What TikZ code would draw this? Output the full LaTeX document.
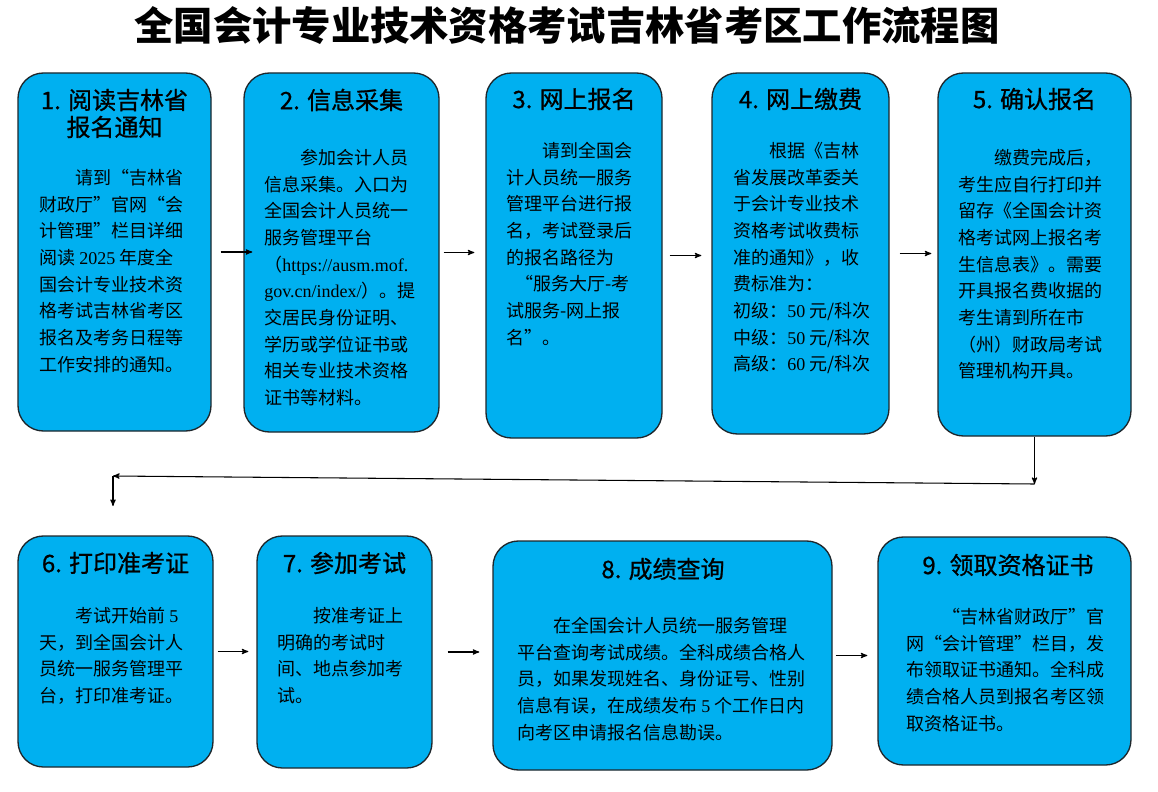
\documentclass[tikz,border=0pt]{standalone}
\usepackage{fontspec}
\setmainfont{Noto Sans CJK SC}
\newfontfamily\numfont{Liberation Serif}
\newfontfamily\headfont[FakeBold=0.8]{Noto Sans CJK SC}
\usetikzlibrary{arrows,fit,calc}
\definecolor{boxcolor}{HTML}{00B0F0}
\definecolor{edgecolor}{HTML}{1E262B}

\begin{document}
\begin{tikzpicture}[x=0.75pt,y=-0.75pt]
  %%Styles for the boxes, texts and arrows
  \tikzset{stage box/.style={draw=edgecolor,line width=1pt,fill=boxcolor,rounded corners=19pt,inner sep=0pt}}
  \tikzset{flow arrow/.style={draw,-stealth',line width=0.8pt}}
  \tikzset{stage title/.style={font=\headfont\fontsize{18}{20.25}\selectfont,align=center}}
  \tikzset{stage text/.style={font=\fontsize{13.5}{20}\selectfont,align=left,anchor=north west,inner sep=0pt}}
  \useasboundingbox (0,0) rectangle (1158,792);
  %%Title
  \node[font=\fontsize{29.5}{34}\selectfont\bfseries] (title) at (567,26) {全国会计专业技术资格考试吉林省考区工作流程图};
  %%The nine boxes, given by their corners
  \foreach \n/\l/\t/\r/\b in {b1/18/73/211/431,b2/244/73/439/432,b3/486/73/662/438,b4/712/73/889/434,b5/938/73/1131/436,
                              b6/18/536/213/767,b7/257/536/432/768,b8/493/541/832/770,b9/878/537/1131/765}{
    \node[stage box,fit={(\l,\t) (\r,\b)}] (\n) {};
  }
  %%Box titles
  \node[stage title] (h1) at (114.5,113.5) {1. 阅读吉林省\\报名通知};
  \node[stage title] (h2) at (341.5,100) {2. 信息采集};
  \node[stage title] (h3) at (574,99) {3. 网上报名};
  \node[stage title] (h4) at (800.5,99) {4. 网上缴费};
  \node[stage title] (h5) at (1034.5,99) {5. 确认报名};
  \node[stage title] (h6) at (115.5,563) {6. 打印准考证};
  \node[stage title] (h7) at (344.5,563) {7. 参加考试};
  \node[stage title] (h8) at (663,569) {8. 成绩查询};
  \node[stage title] (h9) at (1008,565) {9. 领取资格证书};
  %%Box texts
  \node[stage text] (t1) at (39,169) {\hspace*{2em}请到“吉林省\\财政厅”官网“会\\计管理”栏目详细\\阅读 {\numfont 2025} 年度全\\国会计专业技术资\\格考试吉林省考区\\报名及考务日程等\\工作安排的通知。};
  \node[stage text] (t2) at (264,149) {\hspace*{2em}参加会计人员\\信息采集。入口为\\全国会计人员统一\\服务管理平台\\（{\numfont https://ausm.mof.}\\{\numfont gov.cn/index/}）。提\\交居民身份证明、\\学历或学位证书或\\相关专业技术资格\\证书等材料。};
  \node[stage text] (t3) at (506,142) {\hspace*{2em}请到全国会\\计人员统一服务\\管理平台进行报\\名，考试登录后\\的报名路径为\\\hspace*{.5em}“服务大厅-考\\试服务-网上报\\名”。};
  \node[stage text] (t4) at (733,142) {\hspace*{2em}根据《吉林\\省发展改革委关\\于会计专业技术\\资格考试收费标\\准的通知》，收\\费标准为：\\初级：{\numfont 50} 元/科次\\中级：{\numfont 50} 元/科次\\高级：{\numfont 60} 元/科次};
  \node[stage text] (t5) at (958,149) {\hspace*{2em}缴费完成后，\\考生应自行打印并\\留存《全国会计资\\格考试网上报名考\\生信息表》。需要\\开具报名费收据的\\考生请到所在市\\（州）财政局考试\\管理机构开具。};
  \node[stage text] (t6) at (39,607) {\hspace*{2em}考试开始前 {\numfont 5}\\天，到全国会计人\\员统一服务管理平\\台，打印准考证。};
  \node[stage text] (t7) at (277,607) {\hspace*{2em}按准考证上\\明确的考试时\\间、地点参加考\\试。};
  \node[stage text] (t8) at (517,617) {\hspace*{2em}在全国会计人员统一服务管理\\平台查询考试成绩。全科成绩合格人\\员，如果发现姓名、身份证号、性别\\信息有误，在成绩发布 {\numfont 5} 个工作日内\\向考区申请报名信息勘误。};
  \node[stage text] (t9) at (906,608) {\hspace*{2em}“吉林省财政厅”官\\网“会计管理”栏目，发\\布领取证书通知。全科成\\绩合格人员到报名考区领\\取资格证书。};
  %%Arrows between the boxes of one row
  \foreach \a/\b/\s/\e in {b1/b2/6.75pt/-6.75pt,b2/b3/3pt/8.25pt,b3/b4/5.25pt/7.5pt,b4/b5/7.5pt/4.5pt,
                           b6/b7/3pt/6pt,b7/b8/11.25pt/9.75pt,b8/b9/2.25pt/7.5pt}{
    \path[flow arrow,shorten <=\s,shorten >=\e] (\a.east) -- (\a.east -| \b.west);
  }
  %%From the first row down to the second
  \coordinate (r1) at (b5.south |- 0,484);
  \coordinate (l1) at (113,476);
  \coordinate (l2) at (113,506);
  \path[flow arrow] (b5.south) -- (r1);
  \path[flow arrow] (r1) -- (l1);
  \path[flow arrow] (l1) -- (l2);
\end{tikzpicture}
\end{document}
